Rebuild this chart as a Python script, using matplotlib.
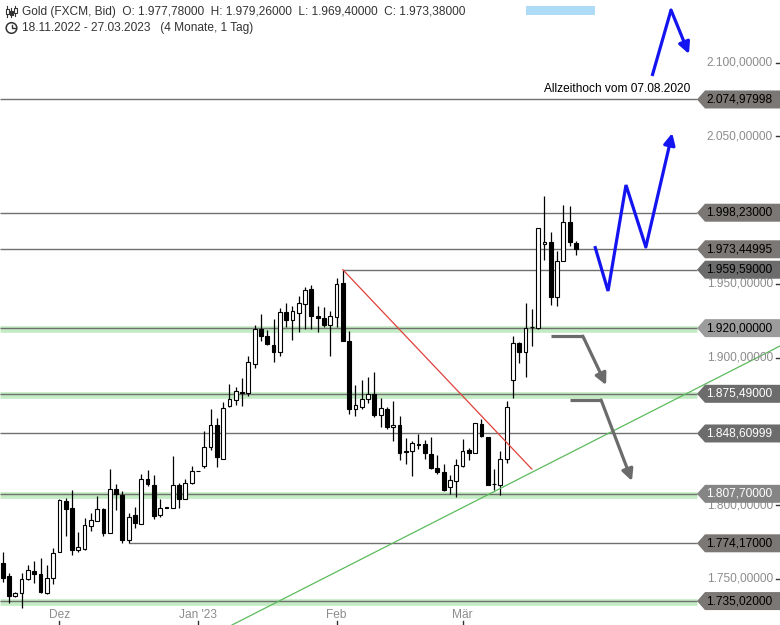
import matplotlib
matplotlib.use("Agg")
import numpy as np
import pandas as pd
import matplotlib.pyplot as plt
from matplotlib.patches import Polygon, Rectangle, Circle
from matplotlib.transforms import IdentityTransform

plt.rcParams['font.family'] = ['Liberation Sans', 'DejaVu Sans']

# ---------------- data ----------------
dates = pd.bdate_range("2022-11-18", "2023-03-27")

opens = [1760.7, 1752.1, 1738.2, 1740.2, 1749.7, 1755.3, 1753.3, 1740.2, 1750.4, 1768.6,
         1802.7, 1797.8, 1769.3, 1770.3, 1786.1, 1789.2, 1797.1, 1781.4, 1811.1, 1807.2,
         1776.4, 1793.1, 1787.5, 1817.8, 1813.9, 1793.3, 1798.5, 1798.0, 1813.7, 1804.3,
         1815.1, 1823.1, 1826.3, 1839.4, 1854.4, 1831.3, 1867.5, 1871.1, 1876.4, 1876.3,
         1895.4, 1919.7, 1915.0, 1908.5, 1903.5, 1931.1, 1925.7, 1930.2, 1936.5, 1946.7,
         1928.0, 1927.1, 1922.4, 1927.5, 1950.9, 1911.3, 1865.0, 1866.8, 1872.2, 1875.3,
         1861.2, 1865.0, 1852.9, 1854.4, 1836.5, 1836.4, 1841.6, 1841.6, 1834.8, 1825.2,
         1822.4, 1812.4, 1816.2, 1826.8, 1837.4, 1835.3, 1855.0, 1846.0, 1814.5, 1814.0,
         1831.3, 1884.8, 1910.2, 1903.9, 1920.8, 1920.3, 1977.0, 1978.5, 1941.0, 1965.5,
         1991.8, 1977.78]
highs = [1768.3, 1753.9, 1741.0, 1753.9, 1759.5, 1762.0, 1763.9, 1759.5, 1770.8, 1804.5,
         1805.2, 1810.6, 1781.6, 1791.0, 1794.9, 1806.5, 1797.8, 1824.8, 1814.6, 1809.4,
         1794.9, 1799.0, 1821.4, 1823.6, 1820.7, 1803.9, 1798.8, 1833.5, 1815.1, 1817.8,
         1826.3, 1823.4, 1850.4, 1865.2, 1859.0, 1869.8, 1882.1, 1880.3, 1886.5, 1901.4,
         1921.9, 1929.3, 1919.0, 1925.9, 1933.5, 1937.2, 1935.2, 1941.9, 1948.2, 1949.5,
         1935.2, 1934.2, 1931.3, 1954.1, 1959.59, 1918.0, 1881.2, 1884.8, 1886.6, 1890.0,
         1872.4, 1866.4, 1870.4, 1860.5, 1845.4, 1843.2, 1848.4, 1844.3, 1846.1, 1834.2,
         1827.9, 1820.7, 1831.5, 1844.8, 1838.7, 1856.0, 1858.3, 1846.2, 1824.6, 1836.4,
         1870.8, 1914.5, 1910.6, 1937.2, 1933.2, 1987.8, 2009.6, 1984.9, 1972.3, 2003.5,
         2002.8, 1979.26]
lows = [1748.1, 1733.7, 1737.5, 1730.1, 1749.5, 1747.2, 1740.2, 1740.0, 1746.7, 1768.4,
        1779.1, 1766.3, 1768.6, 1769.6, 1782.7, 1789.0, 1779.1, 1781.2, 1796.6, 1774.6,
        1774.17, 1784.8, 1787.3, 1812.8, 1790.8, 1792.2, 1798.0, 1797.8, 1798.0, 1804.1,
        1814.4, 1822.9, 1825.2, 1837.1, 1825.6, 1831.1, 1866.8, 1868.2, 1867.5, 1874.0,
        1893.1, 1911.3, 1908.5, 1897.2, 1901.2, 1920.7, 1912.2, 1917.4, 1919.7, 1919.7,
        1917.4, 1920.7, 1901.2, 1920.7, 1911.1, 1861.8, 1860.7, 1865.4, 1869.5, 1859.6,
        1853.3, 1851.6, 1843.8, 1830.8, 1828.1, 1819.6, 1838.1, 1831.3, 1824.5, 1821.3,
        1809.4, 1807.9, 1805.7, 1825.9, 1830.8, 1835.1, 1846.2, 1813.8, 1810.6, 1807.2,
        1828.6, 1872.5, 1896.1, 1886.6, 1907.9, 1919.7, 1966.2, 1935.8, 1935.2, 1965.3,
        1975.8, 1969.40]
closes = [1750.6, 1738.4, 1740.4, 1749.9, 1755.8, 1753.5, 1740.9, 1750.4, 1767.9, 1803.2,
          1797.6, 1769.3, 1771.5, 1786.3, 1789.7, 1797.1, 1781.4, 1811.1, 1807.4, 1776.4,
          1792.2, 1788.1, 1817.8, 1814.2, 1792.6, 1798.3, 1798.2, 1813.7, 1804.3, 1815.1,
          1823.2, 1823.3, 1839.4, 1854.4, 1832.6, 1865.9, 1872.0, 1877.2, 1876.2, 1897.3,
          1919.7, 1914.7, 1909.1, 1903.9, 1931.1, 1925.7, 1931.3, 1937.2, 1946.0, 1928.2,
          1927.1, 1922.4, 1928.4, 1950.0, 1911.3, 1865.0, 1867.7, 1871.8, 1875.3, 1861.2,
          1865.6, 1853.3, 1854.4, 1835.7, 1836.3, 1842.1, 1840.5, 1835.3, 1825.2, 1822.4,
          1810.5, 1816.9, 1827.0, 1836.4, 1835.7, 1856.0, 1846.6, 1814.0, 1814.3, 1831.3,
          1866.8, 1910.2, 1903.9, 1920.3, 1920.6, 1987.8, 1978.5, 1941.0, 1965.5, 1991.8,
          1978.1, 1973.38]

levels = [2074.97998, 1998.23, 1973.44995, 1959.59, 1920.0, 1875.49, 1848.60999,
          1807.70, 1774.17, 1735.02]
level_start_idx = [None, None, None, 54, None, None, None, None, 20, None]
green_levels = [1920.0, 1875.49, 1807.70, 1735.02]
tag_colors = ['#7b7774', '#7b7774', '#7b7774', '#6c6c6c', '#9c9c9c', '#6c6c6c',
              '#6c6c6c', '#858585', '#7b7774', '#7b7774']
tag_text_colors = ['black', 'black', 'black', 'black', 'black', 'white', 'white',
                   'white', 'black', 'black']
# 2.000 and 1.850 are fully hidden behind price tags in the reference
ytick_values = [2100, 2050, 1950, 1900, 1800, 1750]
month_labels = ["Dez", "Jan '23", "Feb", "Mär"]
month_starts = ["2022-12-01", "2023-01-01", "2023-02-01", "2023-03-01"]

ath_label = "Allzeithoch vom 07.08.2020"

# trend lines (bar index, price)
red_x, red_y = [54, 84.0], [1959.59, 1824.5]
green_x, green_y = [36.4, 123.4], [1718.8, 1907.9]

# forecast paths (bar index, price)
blue1_x = [94.0, 96.1, 98.95, 102.1, 106.3]
blue1_y = [1975.6, 1945.2, 2017.0, 1975.0, 2052.2]
blue2_x = [103.1, 106.1, 108.95]
blue2_y = [2090.9, 2135.6, 2105.8]
gray1_x = [87.05, 92.1, 95.8]
gray1_y = [1914.6, 1914.6, 1881.4]
gray2_x = [90.06, 95.0, 99.9]
gray2_y = [1871.3, 1871.3, 1816.4]


def de_fmt(v):
    s = f"{v:,.5f}"
    return s.replace(",", "X").replace(".", ",").replace("X", ".")


# ---------------- figure ----------------
W, H = 780, 625
FS = 8.6
fig = plt.figure(figsize=(W / 100, H / 100), dpi=100)
ax = fig.add_axes([0, 0, 1, 1])
ax.set_xlim(-0.43, 123.4)
ax.set_ylim(1718.8, 2142.4)
ax.axis('off')
ID = IdentityTransform()


def px(x, y):
    return (x, H - y)


def data_px_y(p):
    return H - ax.transData.transform((0, p))[1]


x_end = 697 / W * (123.4 + 0.43) - 0.43

# green bands
for g in green_levels:
    ax.hlines(g - 0.6, -0.43, x_end, color='#c4ecc4', lw=4.8, zorder=1)

# level lines
for lv, st in zip(levels, level_start_idx):
    xs = -0.43 if st is None else st
    ax.hlines(lv, xs, x_end, color='#707070', lw=1.0, zorder=2)

# candles
for i, (o, h, l, c) in enumerate(zip(opens, highs, lows, closes)):
    up = c >= o
    ax.vlines(i, l, h, color='black', lw=0.9, zorder=4)
    bottom = min(o, c)
    height = max(abs(c - o), 0.35)
    ax.add_patch(Rectangle((i - 0.3, bottom), 0.6, height,
                           facecolor='white' if up else 'black',
                           edgecolor='black', lw=0.8, zorder=5))

# trend lines
ax.plot(red_x, red_y, color='#e0403a', lw=0.9, zorder=6)
ax.plot(green_x, green_y, color='#5cbb5c', lw=0.9, zorder=6)


def path_arrow(xs, ys, color, lw):
    ax.plot(xs[:-1], ys[:-1], color=color, lw=lw, zorder=7, solid_capstyle='butt',
            solid_joinstyle='miter')
    ax.annotate('', xy=(xs[-1], ys[-1]), xytext=(xs[-2], ys[-2]),
                arrowprops=dict(arrowstyle='-|>', color=color, lw=lw,
                                mutation_scale=17, shrinkA=0, shrinkB=0),
                zorder=7)


path_arrow(blue1_x, blue1_y, '#1414f0', 2.3)
path_arrow(blue2_x, blue2_y, '#1414f0', 2.3)
path_arrow(gray1_x, gray1_y, '#6b6b6b', 2.3)
path_arrow(gray2_x, gray2_y, '#6b6b6b', 2.3)

# y tick labels
for v in ytick_values:
    yy = data_px_y(v)
    ax.text(*px(773, yy), de_fmt(v), transform=ID, ha='right', va='center',
            fontsize=FS, color='#8c8c8c', zorder=8)
    ax.plot([776, 780], [H - yy, H - yy], transform=ID, color='#333333', lw=1, zorder=8)

# level tags
for lv, fc, tc in zip(levels, tag_colors, tag_text_colors):
    yy = data_px_y(lv)
    pts = [px(697, yy), px(705, yy - 9), px(780, yy - 9), px(780, yy + 9), px(705, yy + 9)]
    ax.add_patch(Polygon(pts, closed=True, facecolor=fc, edgecolor='none',
                         transform=ID, zorder=10))
    ax.text(*px(706, yy), de_fmt(lv), transform=ID, ha='left', va='center',
            fontsize=FS, color=tc, zorder=11)

# x labels
for lab, ms in zip(month_labels, month_starts):
    idx = int(np.searchsorted(dates.values, np.datetime64(ms)))
    xx = ax.transData.transform((idx, 0))[0]
    ax.text(xx, H - 615, lab, transform=ID, ha='center', va='center',
            fontsize=FS, color='#8c8c8c', zorder=8)
    ax.plot([xx, xx], [0, 4], transform=ID, color='#333333', lw=1, zorder=8)

# all time high label
ax.text(*px(690, 89), ath_label, transform=ID, ha='right', va='center',
        fontsize=FS, color='black', zorder=8)

# light-blue box at the top
ax.add_patch(Rectangle(px(526, 15), 69, 9, transform=ID, facecolor='#aedcf6',
                       edgecolor='none', zorder=8))

# header
o, h, l, c = opens[-1], highs[-1], lows[-1], closes[-1]
header = (f"Gold (FXCM, Bid)  O: {de_fmt(o)}  H: {de_fmt(h)}  "
          f"L: {de_fmt(l)}  C: {de_fmt(c)}")
ax.text(*px(22, 12), header, transform=ID, ha='left', va='center',
        fontsize=FS, color='#333333', zorder=12)
sub = (f"{dates[0].strftime('%d.%m.%Y')} - {dates[-1].strftime('%d.%m.%Y')}"
       "   (4 Monate, 1 Tag)")
ax.text(*px(22, 28), sub, transform=ID, ha='left', va='center',
        fontsize=FS, color='#333333', zorder=12)

# candle icon
for cx, y0, y1, b0, b1, fill in [(7, 6, 17, 9, 14, False), (11, 8, 17, 11, 15, True),
                                  (15, 6, 16, 8, 13, False)]:
    ax.plot([cx, cx], [H - y0, H - y1], transform=ID, color='#333333', lw=0.8, zorder=12)
    ax.add_patch(Rectangle(px(cx - 1.5, b1), 3, b1 - b0, transform=ID,
                           facecolor='#333333' if fill else 'white',
                           edgecolor='#333333', lw=0.8, zorder=13))
# clock icon
ax.add_patch(Circle(px(11.5, 28), 5.3, transform=ID, facecolor='none',
                    edgecolor='#333333', lw=1.1, zorder=12))
ax.plot([11.5, 11.5, 14.5], [H - 24.5, H - 28, H - 28], transform=ID,
        color='#333333', lw=1.0, zorder=12)

fig.savefig("out.png", dpi=100)
